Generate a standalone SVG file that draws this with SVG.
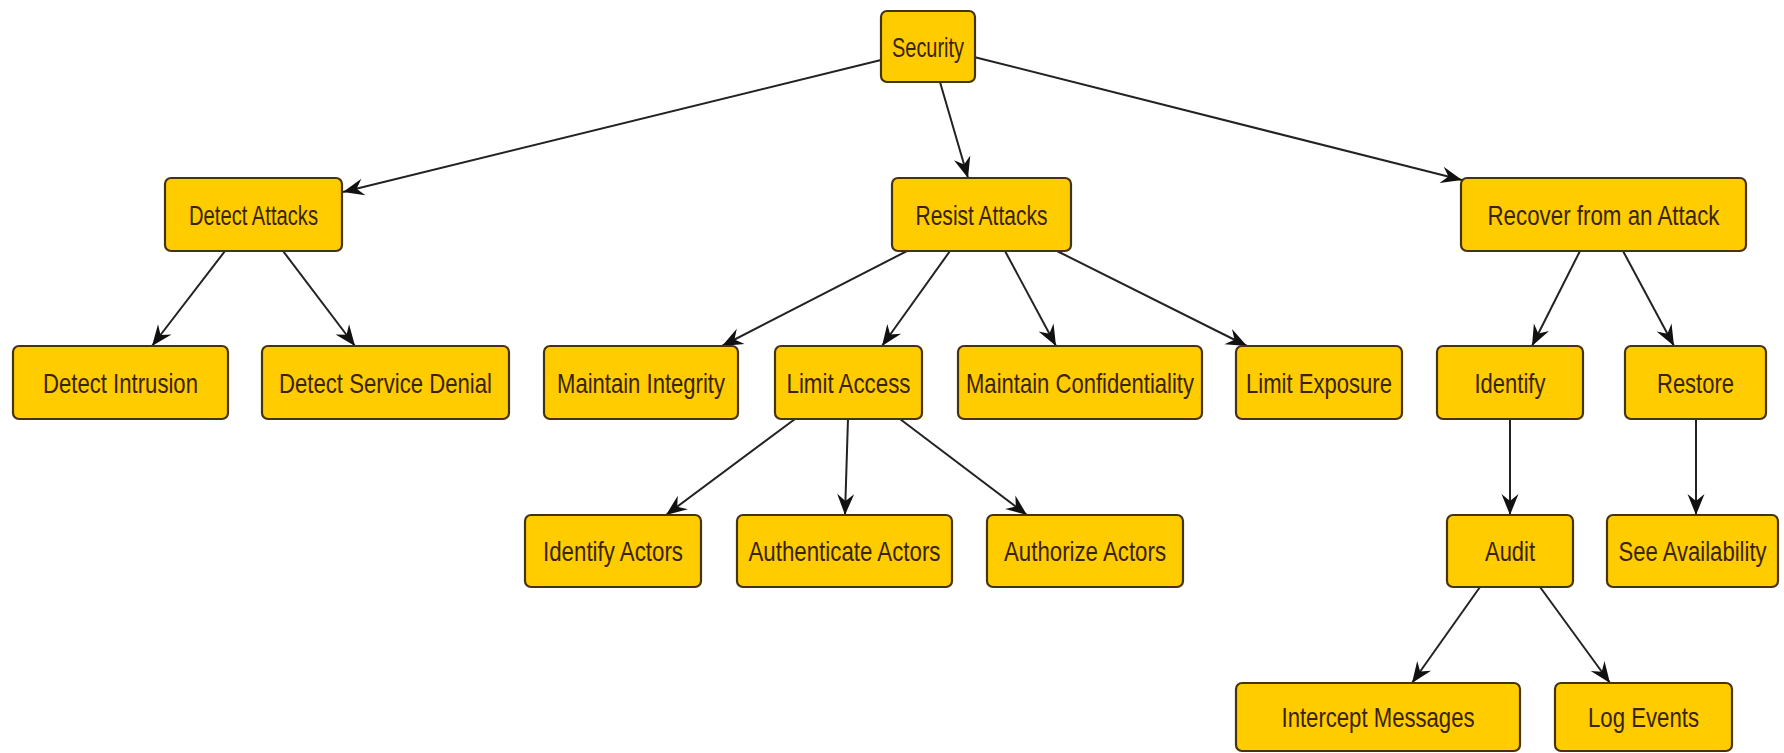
<svg xmlns="http://www.w3.org/2000/svg" width="1784" height="753" viewBox="0 0 1784 753">
<style>
.box{fill:#FFCC00;stroke:#45330c;stroke-width:2.2}
.lbl{font-family:"Liberation Sans",Arial,sans-serif;font-size:28px;fill:#3a2400;text-anchor:middle}
.edge{stroke:#222;stroke-width:2;fill:none;marker-end:url(#arr)}
</style>
<defs>
<marker id="arr" markerUnits="userSpaceOnUse" viewBox="-22 -11 24 22" refX="0" refY="0" markerWidth="24" markerHeight="22" orient="auto">
<path d="M0,0 L-21,-8.5 L-14,0 L-21,8.5 Z" fill="#111"/>
</marker>
</defs>
<rect width="1784" height="753" fill="#fff"/>
<g id="connectors">
<line class="edge" x1="881" y1="60" x2="343" y2="192"/>
<line class="edge" x1="940" y1="82" x2="968" y2="178"/>
<line class="edge" x1="974" y1="57" x2="1462" y2="180"/>
<line class="edge" x1="225" y1="251" x2="152" y2="346"/>
<line class="edge" x1="283" y1="251" x2="355" y2="346"/>
<line class="edge" x1="907" y1="251" x2="722" y2="346"/>
<line class="edge" x1="950" y1="251" x2="882" y2="346"/>
<line class="edge" x1="1005" y1="251" x2="1056" y2="346"/>
<line class="edge" x1="1057" y1="251" x2="1247" y2="346"/>
<line class="edge" x1="1580" y1="251" x2="1532" y2="346"/>
<line class="edge" x1="1623" y1="251" x2="1674" y2="346"/>
<line class="edge" x1="795" y1="419" x2="666" y2="515"/>
<line class="edge" x1="848" y1="419" x2="845" y2="515"/>
<line class="edge" x1="900" y1="419" x2="1027" y2="515"/>
<line class="edge" x1="1510" y1="419" x2="1510" y2="515"/>
<line class="edge" x1="1696" y1="419" x2="1696" y2="515"/>
<line class="edge" x1="1480" y1="587" x2="1412" y2="683"/>
<line class="edge" x1="1540" y1="587" x2="1610" y2="683"/>
</g>
<g id="n-security"><rect class="box" x="881" y="11" width="94" height="71" rx="6"/><text class="lbl" x="928" y="57" textLength="72" lengthAdjust="spacingAndGlyphs">Security</text></g>
<g id="n-detect-attacks"><rect class="box" x="165" y="178" width="177" height="73" rx="6"/><text class="lbl" x="253.5" y="225" textLength="129" lengthAdjust="spacingAndGlyphs">Detect Attacks</text></g>
<g id="n-resist-attacks"><rect class="box" x="892" y="178" width="179" height="73" rx="6"/><text class="lbl" x="981.5" y="225" textLength="132" lengthAdjust="spacingAndGlyphs">Resist Attacks</text></g>
<g id="n-recover"><rect class="box" x="1461" y="178" width="285" height="73" rx="6"/><text class="lbl" x="1603.5" y="225" textLength="232" lengthAdjust="spacingAndGlyphs">Recover from an Attack</text></g>
<g id="n-detect-intrusion"><rect class="box" x="13" y="346" width="215" height="73" rx="6"/><text class="lbl" x="120.5" y="393" textLength="155" lengthAdjust="spacingAndGlyphs">Detect Intrusion</text></g>
<g id="n-detect-service-denial"><rect class="box" x="262" y="346" width="247" height="73" rx="6"/><text class="lbl" x="385.5" y="393" textLength="213" lengthAdjust="spacingAndGlyphs">Detect Service Denial</text></g>
<g id="n-maintain-integrity"><rect class="box" x="544" y="346" width="194" height="73" rx="6"/><text class="lbl" x="641" y="393" textLength="168" lengthAdjust="spacingAndGlyphs">Maintain Integrity</text></g>
<g id="n-limit-access"><rect class="box" x="775" y="346" width="147" height="73" rx="6"/><text class="lbl" x="848.5" y="393" textLength="124" lengthAdjust="spacingAndGlyphs">Limit Access</text></g>
<g id="n-maintain-confidentiality"><rect class="box" x="958" y="346" width="244" height="73" rx="6"/><text class="lbl" x="1080" y="393" textLength="228" lengthAdjust="spacingAndGlyphs">Maintain Confidentiality</text></g>
<g id="n-limit-exposure"><rect class="box" x="1236" y="346" width="166" height="73" rx="6"/><text class="lbl" x="1319" y="393" textLength="146" lengthAdjust="spacingAndGlyphs">Limit Exposure</text></g>
<g id="n-identify"><rect class="box" x="1437" y="346" width="146" height="73" rx="6"/><text class="lbl" x="1510" y="393" textLength="71" lengthAdjust="spacingAndGlyphs">Identify</text></g>
<g id="n-restore"><rect class="box" x="1625" y="346" width="141" height="73" rx="6"/><text class="lbl" x="1695.5" y="393" textLength="77" lengthAdjust="spacingAndGlyphs">Restore</text></g>
<g id="n-identify-actors"><rect class="box" x="525" y="515" width="176" height="72" rx="6"/><text class="lbl" x="613" y="561" textLength="140" lengthAdjust="spacingAndGlyphs">Identify Actors</text></g>
<g id="n-authenticate-actors"><rect class="box" x="737" y="515" width="215" height="72" rx="6"/><text class="lbl" x="844.5" y="561" textLength="192" lengthAdjust="spacingAndGlyphs">Authenticate Actors</text></g>
<g id="n-authorize-actors"><rect class="box" x="987" y="515" width="196" height="72" rx="6"/><text class="lbl" x="1085" y="561" textLength="162" lengthAdjust="spacingAndGlyphs">Authorize Actors</text></g>
<g id="n-audit"><rect class="box" x="1447" y="515" width="126" height="72" rx="6"/><text class="lbl" x="1510" y="561" textLength="50" lengthAdjust="spacingAndGlyphs">Audit</text></g>
<g id="n-see-availability"><rect class="box" x="1607" y="515" width="171" height="72" rx="6"/><text class="lbl" transform="translate(1692.5,561) scale(0.78,1)" x="0" y="0" textLength="190" lengthAdjust="spacingAndGlyphs">See Availability</text></g>
<g id="n-intercept-messages"><rect class="box" x="1236" y="683" width="284" height="68" rx="6"/><text class="lbl" x="1378" y="727" textLength="193" lengthAdjust="spacingAndGlyphs">Intercept Messages</text></g>
<g id="n-log-events"><rect class="box" x="1555" y="683" width="177" height="68" rx="6"/><text class="lbl" x="1643.5" y="727" textLength="111" lengthAdjust="spacingAndGlyphs">Log Events</text></g>
</svg>
